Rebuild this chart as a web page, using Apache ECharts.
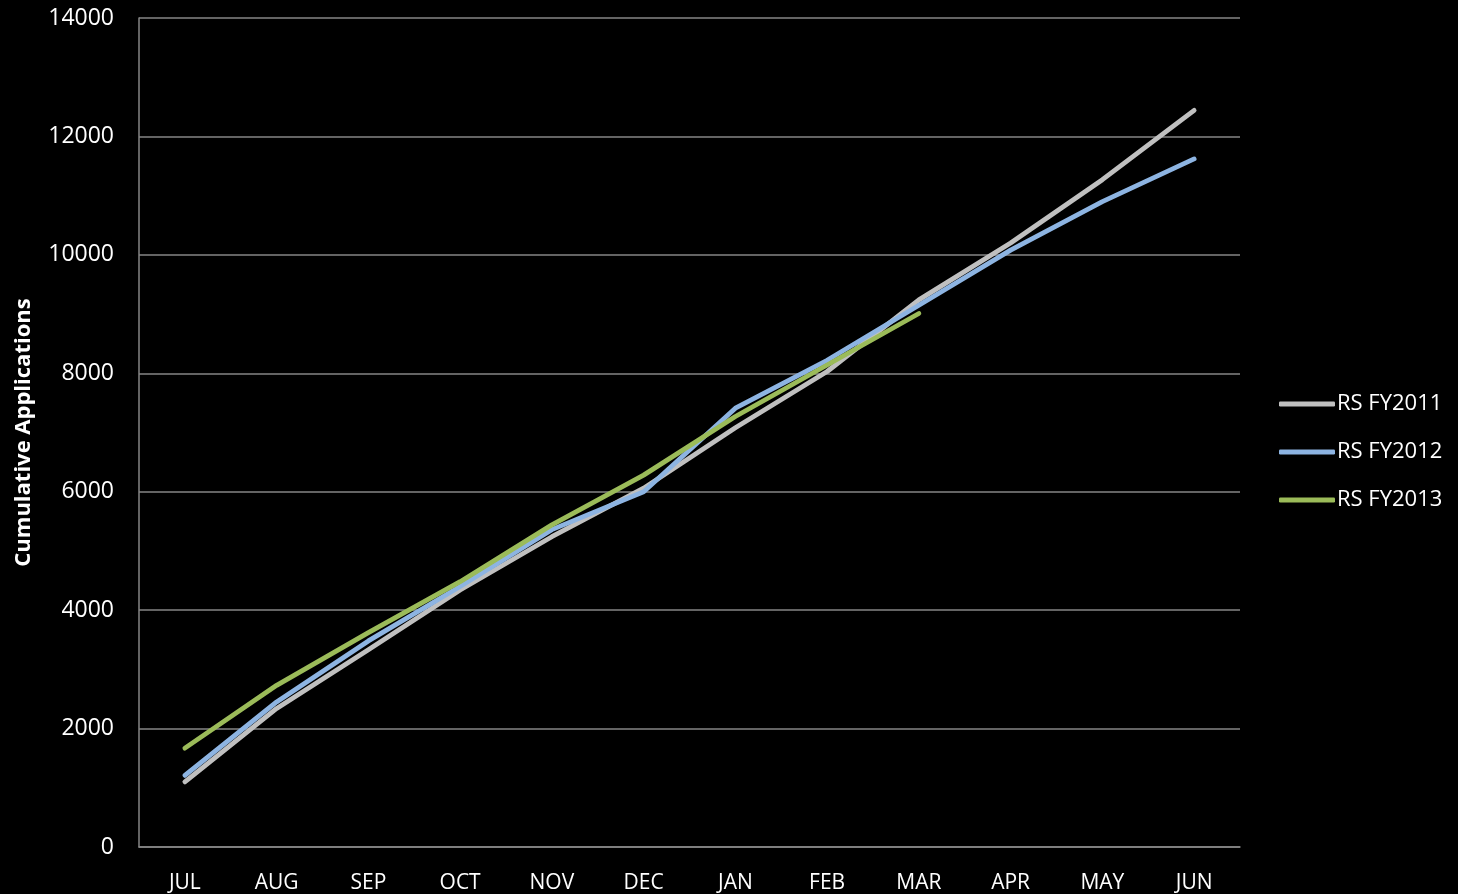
<!DOCTYPE html>
<html>
<head>
<meta charset="utf-8">
<title>Cumulative Applications</title>
<script src="https://cdn.jsdelivr.net/npm/echarts@6/dist/echarts.min.js"></script>
<style>
  html, body { margin: 0; padding: 0; background: #000; }
  #chart { width: 1458px; height: 894px; }
</style>
</head>
<body>
<div id="chart"></div>
<script>
// Fiscal-year months, July through June
const months = ['JUL', 'AUG', 'SEP', 'OCT', 'NOV', 'DEC', 'JAN', 'FEB', 'MAR', 'APR', 'MAY', 'JUN'];

// Cumulative applications per fiscal year
const fy2011 = [1100, 2340, 3330, 4340, 5240, 6060, 7080, 8030, 9240, 10200, 11270, 12440];
const fy2012 = [1210, 2450, 3480, 4400, 5360, 6000, 7410, 8220, 9150, 10080, 10900, 11620];
const fy2013 = [1670, 2730, 3620, 4480, 5440, 6280, 7270, 8140, 9010];

const seriesNames = ['RS FY2011', 'RS FY2012', 'RS FY2013'];
const seriesColors = ['#c0c0c0', '#8db4e2', '#9bbb59'];

const font = '"Open Sans", "DejaVu Sans", sans-serif';

const chart = echarts.init(document.getElementById('chart'), null, { renderer: 'canvas' });

function lineSeries(name, data, color) {
  return {
    name: name,
    type: 'line',
    data: data,
    showSymbol: false,
    symbol: 'none',
    smooth: false,
    lineStyle: { color: color, width: 4.8, cap: 'round', join: 'round' },
    itemStyle: { color: color },
    emphasis: { disabled: true }
  };
}

chart.setOption({
  backgroundColor: '#000000',
  animation: false,
  grid: { left: 139, right: 218, top: 18, bottom: 47, containLabel: false },
  legend: {
    orient: 'vertical',
    left: 1274,
    top: 387,
    itemWidth: 56,
    itemHeight: 5,
    itemGap: 24,
    icon: 'roundRect',
    data: seriesNames,
    textStyle: { color: '#ffffff', fontFamily: font, fontSize: 22, lineHeight: 24, padding: [0, 0, 0, -3] }
  },
  xAxis: {
    type: 'category',
    data: months,
    boundaryGap: true,
    axisLine: { show: true, lineStyle: { color: '#868686', width: 1.5 } },
    axisTick: { show: false },
    axisLabel: { color: '#ffffff', fontFamily: font, fontSize: 21, margin: 26 },
    splitLine: { show: false }
  },
  yAxis: {
    type: 'value',
    min: 0,
    max: 14000,
    interval: 2000,
    name: 'Cumulative Applications',
    nameLocation: 'middle',
    nameGap: 104,
    nameRotate: 90,
    nameTextStyle: { color: '#ffffff', fontFamily: font, fontSize: 22, fontWeight: 'bold' },
    axisLine: { show: true, lineStyle: { color: '#868686', width: 1.5 } },
    axisTick: { show: false },
    axisLabel: {
      color: '#ffffff', fontFamily: font, fontSize: 23, margin: 25,
      formatter: function (v) { return String(v); }
    },
    splitLine: { show: true, lineStyle: { color: '#868686', width: 1.5 } }
  },
  series: [
    lineSeries(seriesNames[0], fy2011, seriesColors[0]),
    lineSeries(seriesNames[1], fy2012, seriesColors[1]),
    lineSeries(seriesNames[2], fy2013, seriesColors[2])
  ]
});
</script>
</body>
</html>
